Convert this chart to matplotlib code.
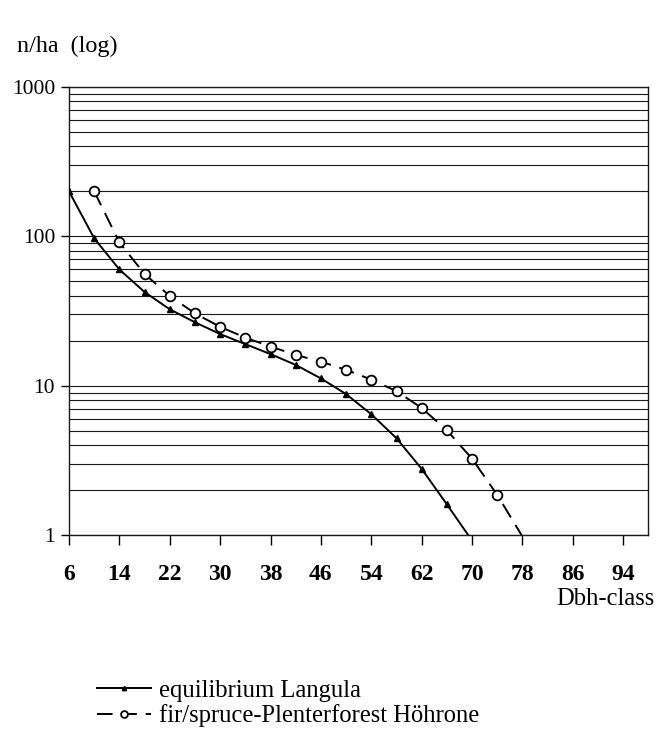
import numpy as np
import matplotlib
matplotlib.use("Agg")
import matplotlib.pyplot as plt
from matplotlib.ticker import LogLocator, NullFormatter, FixedLocator

# Dbh classes (cm) and stem numbers per ha
dbh_langula = [6, 10, 14, 18, 22, 26, 30, 34, 38, 42, 46, 50, 54, 58, 62, 66, 70]
n_langula = [200, 97, 60, 42.4, 32.5, 26.6, 22.2, 19.0, 16.3, 13.8, 11.2, 8.8,
             6.45, 4.46, 2.78, 1.61, 0.92]

dbh_hoehrone = [10, 14, 18, 22, 26, 30, 34, 38, 42, 46, 50, 54, 58, 62, 66, 70, 74, 78]
n_hoehrone = [200, 91, 56, 39.9, 30.5, 24.8, 21.0, 18.3, 16.1, 14.5, 12.8, 11.0,
              9.2, 7.1, 5.04, 3.25, 1.86, 0.98]

x_ticks = [6, 14, 22, 30, 38, 46, 54, 62, 70, 78, 86, 94]
y_ticks = [1, 10, 100, 1000]

label_langula = "equilibrium Langula"
label_hoehrone = "fir/spruce-Plenterforest Höhrone"

plt.rcParams["font.family"] = ["Liberation Serif", "DejaVu Serif"]

fig = plt.figure(figsize=(6.57, 7.34), dpi=100)
ax = fig.add_axes([0.105, 0.2707, 0.882, 0.611])

ax.set_yscale("log")
ax.set_ylim(1, 1000)
ax.set_xlim(6, 98)

# horizontal grid at every major and minor log step
for dec in [1, 10, 100]:
    for m in range(1, 10):
        ax.axhline(dec * m, color="#1a1a1a", lw=0.8, zorder=1)
ax.axhline(1000, color="#1a1a1a", lw=0.8, zorder=1)

# last points fall below 1 and get clipped, so no marker drawn for them
line1, = ax.plot(dbh_langula, n_langula, color="black", lw=1.4, marker="^",
                 markersize=4.5, markerfacecolor="black", markeredgecolor="black",
                 markevery=list(range(len(dbh_langula) - 1)),
                 zorder=3, label=label_langula)
line2, = ax.plot(dbh_hoehrone, n_hoehrone, color="black", lw=1.4, ls=(0, (8, 4.5)),
                 marker="o", markersize=7, markerfacecolor="white",
                 markeredgecolor="black", markeredgewidth=1.3,
                 markevery=list(range(len(dbh_hoehrone) - 1)),
                 zorder=3, label=label_hoehrone)

ax.yaxis.set_major_locator(FixedLocator(y_ticks))
ax.yaxis.set_minor_locator(LogLocator(base=10, subs=np.arange(2, 10)))
ax.yaxis.set_minor_formatter(NullFormatter())
ax.set_yticklabels([str(v) for v in y_ticks])
ax.tick_params(axis="y", which="major", direction="out", length=6, width=1,
               labelsize=15.5, pad=4)
ax.tick_params(axis="y", which="minor", length=0)

ax.set_xticks(x_ticks)
ax.set_xticklabels([str(v) for v in x_ticks], fontweight="bold")
ax.tick_params(axis="x", direction="out", length=7, width=1, labelsize=17,
               pad=14)

for s in ax.spines.values():
    s.set_linewidth(1.0)
    s.set_color("#1a1a1a")

fig.text(17 / 657, 1 - 52 / 734, "n/ha  (log)", fontsize=17.4, va="baseline", ha="left")
fig.text(655 / 657, 1 - 605 / 734, "Dbh-class", fontsize=17.7, va="baseline", ha="right")

fig.legend(handles=[line1, line2], loc="upper left",
           bbox_to_anchor=(85 / 657, 1 - 667 / 734), frameon=False,
           fontsize=17.7, handlelength=2.2, handletextpad=0.3,
           labelspacing=0.12, borderpad=0, markerscale=0.7)

fig.savefig("out.png", dpi=100)
